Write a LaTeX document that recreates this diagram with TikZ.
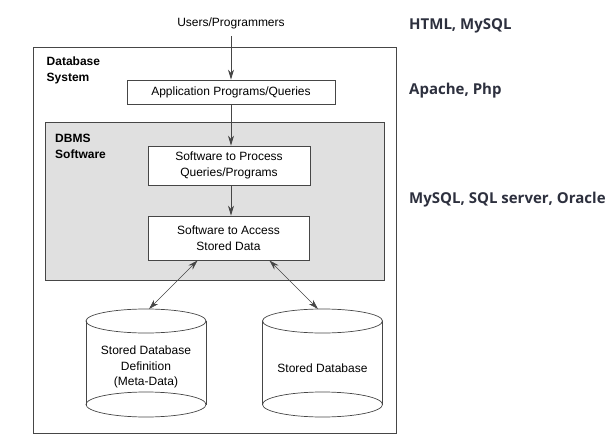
\documentclass[tikz,border=0pt]{standalone}
\usepackage{fontspec}
\setmainfont{Liberation Sans}
\newfontfamily\techfont{Open Sans}
\usetikzlibrary{arrows.meta}
\definecolor{dbmsgray}{RGB}{224,224,224}
\definecolor{linegray}{RGB}{70,70,70}
\definecolor{techcol}{RGB}{45,48,62}

\begin{document}
\begin{tikzpicture}[x = 1pt, y = -1pt,
font = \fontsize{12}{15.5}\selectfont,
box/.style = {draw=linegray, fill=white, line width=0.8pt, align=center, inner sep=0pt},
tip/.style = {-{Stealth[length=10pt,width=6pt]}},
both/.style = {{Stealth[length=10pt,width=6pt]}-{Stealth[length=10pt,width=6pt]}},
tech/.style = {anchor=base west, inner sep=0pt, text=techcol,
  font=\techfont\bfseries\fontsize{15}{18}\selectfont}]
\useasboundingbox (0,0) rectangle (616,439);

\draw[linegray, line width=0.8pt] (33,47) rectangle (396,433);
\filldraw[fill=dbmsgray, draw=linegray, line width=0.8pt] (45,122) rectangle (384,280);

\node[anchor=north west, inner sep=0pt, align=left, font=\bfseries\fontsize{12}{16}\selectfont] (sys) at (46.5,57) {Database\\System};
\node[anchor=north west, inner sep=0pt, align=left, font=\bfseries\fontsize{12}{16}\selectfont] (soft) at (55,134) {DBMS\\Software};

\node (users) at (231,23) {Users/Programmers};
\node[box, minimum width=208pt, minimum height=24pt] (app) at (231,92) {Application Programs/Queries};
\node[box, minimum width=162pt, minimum height=39pt] (proc) at (229,165.5) {Software to Process\\Queries/Programs};
\node[box, minimum width=161pt, minimum height=44pt] (access) at (228.5,238) {Software to Access\\Stored Data};

\draw[tip, linegray, line width=0.8pt, shorten <=4pt] (users.south) -- (users.south |- app.north);
\draw[tip, linegray, line width=0.8pt] (app.south) -- (app.south |- proc.north);
\draw[tip, linegray, line width=0.8pt] (app.south |- proc.south) -- (app.south |- access.north);

% the two cylinders
\foreach \cx in {146,322.5}
{
\draw[linegray, line width=0.7pt] (\cx-60,321) -- (\cx-60,404.5);
\draw[linegray, line width=0.7pt] (\cx+60,321) -- (\cx+60,404.5);
\draw[linegray, line width=0.7pt] (\cx,321) ellipse (60 and 12);
\draw[linegray, line width=0.7pt] (\cx,404.5) ellipse (60 and 12.5);
}

\node[align=center] (meta) at (146,367) {Stored Database\\Definition\\(Meta-Data)};
\node (stored) at (322.5,368) {Stored Database};

\coordinate (metatop) at (149,309);
\coordinate (storedtop) at (318,309);
\draw[both, linegray, line width=0.6pt] ([xshift=50pt]access.south west) -- (metatop);
\draw[both, linegray, line width=0.6pt] ([xshift=-40pt]access.south east) -- (storedtop);

\node[tech] (html) at (409,29) {HTML, MySQL};
\node[tech] (apache) at (409,94) {Apache, Php};
\node[tech] (engines) at (409,203) {MySQL, SQL server, Oracle};
\end{tikzpicture}
\end{document}
